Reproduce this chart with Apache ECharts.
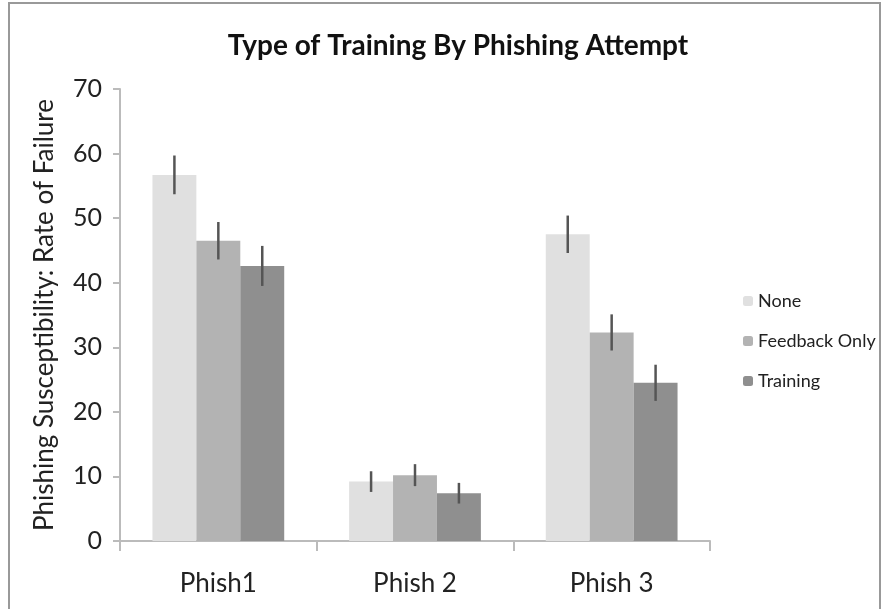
<!DOCTYPE html>
<html>
<head>
    <meta charset="utf-8">
    <title>Type of Training By Phishing Attempt</title>
    <script src="https://cdn.jsdelivr.net/npm/echarts@6/dist/echarts.min.js"></script>
    <style>
        html, body { margin: 0; padding: 0; background: #fff; }
        #main { width: 888px; height: 609px; }
    </style>
</head>
<body>
    <div id="main"></div>
    <script>
        var categories = ['Phish1', 'Phish 2', 'Phish 3'];
        var seriesNames = ['None', 'Feedback Only', 'Training'];
        var noneValues = [56.7, 9.2, 47.5];
        var feedbackValues = [46.5, 10.2, 32.3];
        var trainingValues = [42.6, 7.4, 24.5];
        var noneErr = [3.0, 1.6, 2.9];
        var feedbackErr = [2.9, 1.7, 2.8];
        var trainingErr = [3.1, 1.6, 2.8];
        var yTicks = [0, 10, 20, 30, 40, 50, 60, 70];

        var colors = ['#e0e0e0', '#b3b3b3', '#8f8f8f'];
        var values = [noneValues, feedbackValues, trainingValues];
        var errs = [noneErr, feedbackErr, trainingErr];
        var gapRatio = 0.33;

        var myChart = echarts.init(document.getElementById('main'));

        // error bars drawn on top of each bar, offset like the bars are
        function errorSeries(idx) {
            return {
                type: 'custom',
                z: 10,
                silent: true,
                data: values[idx].map(function (v, i) {
                    return [i, v - errs[idx][i], v + errs[idx][i]];
                }),
                renderItem: function (params, api) {
                    var catW = api.size([1, 0])[0];
                    var barW = catW * (1 - gapRatio) / 3;
                    var lo = api.coord([api.value(0), api.value(1)]);
                    var hi = api.coord([api.value(0), api.value(2)]);
                    var x = lo[0] + (idx - 1) * barW;
                    return {
                        type: 'line',
                        shape: { x1: x, y1: lo[1], x2: x, y2: hi[1] },
                        style: { stroke: '#555', lineWidth: 2.5 }
                    };
                }
            };
        }

        var series = [];
        for (var s = 0; s < 3; s++) {
            series.push({
                name: seriesNames[s],
                type: 'bar',
                data: values[s],
                barGap: '0%',
                barCategoryGap: (gapRatio * 100) + '%',
                itemStyle: { color: colors[s] }
            });
        }
        for (var s = 0; s < 3; s++) series.push(errorSeries(s));

        var option = {
            animation: false,
            textStyle: { fontFamily: 'Lato, "Open Sans", sans-serif' },
            title: {
                text: 'Type of Training By Phishing Attempt',
                left: 453,
                top: 27,
                textAlign: 'center',
                textStyle: { fontSize: 28, fontWeight: 'bold', color: '#111', fontFamily: 'Lato, sans-serif' }
            },
            legend: {
                data: seriesNames,
                orient: 'vertical',
                left: 738,
                top: 287,
                itemWidth: 10,
                itemHeight: 10,
                itemGap: 22,
                textStyle: { fontSize: 18, color: '#222' }
            },
            graphic: [{
                type: 'rect',
                shape: { x: 9, y: 3, width: 871, height: 640 },
                style: { fill: 'none', stroke: '#999', lineWidth: 2 },
                silent: true
            }],
            grid: { left: 120, right: 178, top: 89, bottom: 68 },
            xAxis: {
                type: 'category',
                data: categories,
                axisLine: { lineStyle: { color: '#bbb', width: 2 } },
                axisTick: { show: true, length: 10, lineStyle: { color: '#bbb', width: 2 } },
                axisLabel: { fontSize: 26, color: '#222', margin: 30 }
            },
            yAxis: {
                type: 'value',
                min: yTicks[0],
                max: yTicks[yTicks.length - 1],
                interval: 10,
                name: 'Phishing Susceptibility: Rate of Failure',
                nameLocation: 'middle',
                nameGap: 62,
                nameTextStyle: { fontSize: 26, color: '#222' },
                splitLine: { show: false },
                axisLine: { show: true, lineStyle: { color: '#bbb', width: 2 } },
                axisTick: { show: true, length: 7, lineStyle: { color: '#bbb', width: 2 } },
                axisLabel: { fontSize: 25, color: '#222', margin: 18 }
            },
            series: series
        };

        myChart.setOption(option);
    </script>
</body>
</html>
